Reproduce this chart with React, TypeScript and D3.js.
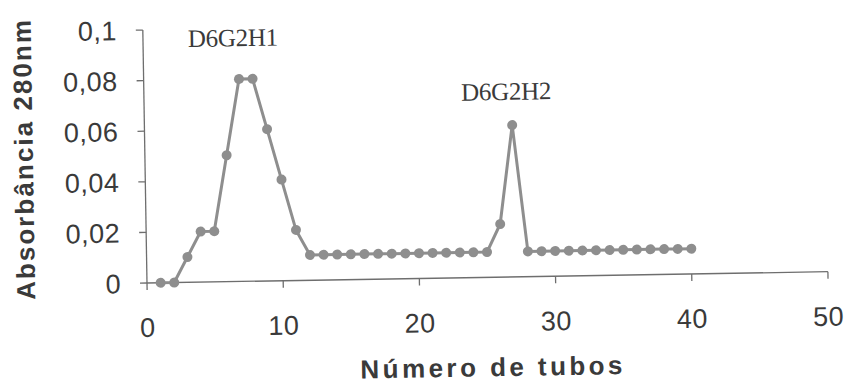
import * as d3 from 'd3';

const tubes = [
  1, 2, 3, 4, 5, 6, 7, 8, 9, 10, 11, 12, 13, 14, 15, 16, 17, 18, 19, 20,
  21, 22, 23, 24, 25, 26, 27, 28, 29, 30, 31, 32, 33, 34, 35, 36, 37, 38, 39, 40,
];
const absorbance = [
  0, 0, 0.01, 0.02, 0.02, 0.05, 0.08, 0.08, 0.06, 0.04, 0.02, 0.01, 0.01, 0.01, 0.01, 0.01, 0.01, 0.01, 0.01, 0.01,
  0.01, 0.01, 0.01, 0.01, 0.01, 0.021, 0.06, 0.01, 0.01, 0.01, 0.01, 0.01, 0.01, 0.01, 0.01, 0.01, 0.01, 0.01, 0.01, 0.01,
];
const xTicks = [0, 10, 20, 30, 40, 50];
const yTicks = [0, 0.02, 0.04, 0.06, 0.08, 0.1];
const peakLabels = [
  { text: 'D6G2H1', tube: 6.6, value: 0.093 },
  { text: 'D6G2H2', tube: 26.6, value: 0.07 },
];

const WIDTH = 848;
const HEIGHT = 388;
const PLOT = { left: 147, right: 828, top: 30, bottom: 283 };

const GREY = '#8e8e8e';
const TEXT = '#3a3a3a';
const AXIS = '#6e6e6e';

const fmt = (v: number) => (v === 0 ? '0' : String(+v.toFixed(2)).replace('.', ','));

export default function App() {
  const x = d3.scaleLinear().domain([0, 50]).range([PLOT.left, PLOT.right]);
  const y = d3.scaleLinear().domain([0, 0.1]).range([PLOT.bottom, PLOT.top]);

  const points = tubes.map((t, i) => ({ t, v: absorbance[i] }));
  const line = d3
    .line<{ t: number; v: number }>()
    .x((d) => x(d.t))
    .y((d) => y(d.v));

  return (
    <svg
      width={WIDTH}
      height={HEIGHT}
      viewBox={`0 0 ${WIDTH} ${HEIGHT}`}
      style={{ position: 'absolute', left: 0, top: 0, background: '#fff' }}
    >
      {/* scan is slightly tilted */}
      <g transform={`rotate(-0.95 ${PLOT.left} ${PLOT.bottom})`}>
        {/* y axis */}
        <line x1={PLOT.left} x2={PLOT.left} y1={y(0.1)} y2={y(0)} stroke={AXIS} strokeWidth={1.3} />
        {yTicks.map((t) => (
          <g key={t}>
            <line x1={PLOT.left - 7} x2={PLOT.left} y1={y(t)} y2={y(t)} stroke={AXIS} strokeWidth={1.3} />
            <text
              x={PLOT.left - 26}
              y={y(t)}
              dy="0.36em"
              textAnchor="end"
              fontFamily="'Liberation Sans', Arial, sans-serif"
              fontSize={27}
              letterSpacing={0.5}
              fill={TEXT}
            >
              {fmt(t)}
            </text>
          </g>
        ))}

        {/* x axis */}
        <line x1={x(0)} x2={x(50)} y1={y(0)} y2={y(0)} stroke={AXIS} strokeWidth={1.3} />
        {xTicks.map((t) => (
          <g key={t}>
            <line x1={x(t)} x2={x(t)} y1={y(0)} y2={y(0) + 7} stroke={AXIS} strokeWidth={1.3} />
            <text
              x={x(t)}
              y={y(0) + 54}
              textAnchor="middle"
              fontFamily="'Liberation Sans', Arial, sans-serif"
              fontSize={27}
              letterSpacing={0.5}
              fill={TEXT}
            >
              {t}
            </text>
          </g>
        ))}

        {/* series */}
        <path d={line(points) ?? ''} fill="none" stroke={GREY} strokeWidth={3} strokeLinejoin="round" />
        {points.map((d) => (
          <circle key={d.t} cx={x(d.t)} cy={y(d.v)} r={5} fill={GREY} />
        ))}

        {/* peak labels */}
        {peakLabels.map((p) => (
          <text
            key={p.text}
            x={x(p.tube)}
            y={y(p.value)}
            textAnchor="middle"
            fontFamily="'Liberation Serif', 'Times New Roman', serif"
            fontSize={25}
            letterSpacing={-0.3}
            fill={TEXT}
          >
            {p.text}
          </text>
        ))}

        {/* axis titles */}
        <text
          x={490}
          y={382}
          textAnchor="middle"
          fontFamily="'Liberation Sans', Arial, sans-serif"
          fontWeight="bold"
          fontSize={26}
          textLength={262}
          lengthAdjust="spacing"
          fill={TEXT}
        >
          Número de tubos
        </text>
        <text
          transform="translate(35,158) rotate(-90)"
          textAnchor="middle"
          fontFamily="'Liberation Sans', Arial, sans-serif"
          fontWeight="bold"
          fontSize={26}
          textLength={280}
          lengthAdjust="spacing"
          fill={TEXT}
        >
          Absorbância 280nm
        </text>
      </g>
    </svg>
  );
}
